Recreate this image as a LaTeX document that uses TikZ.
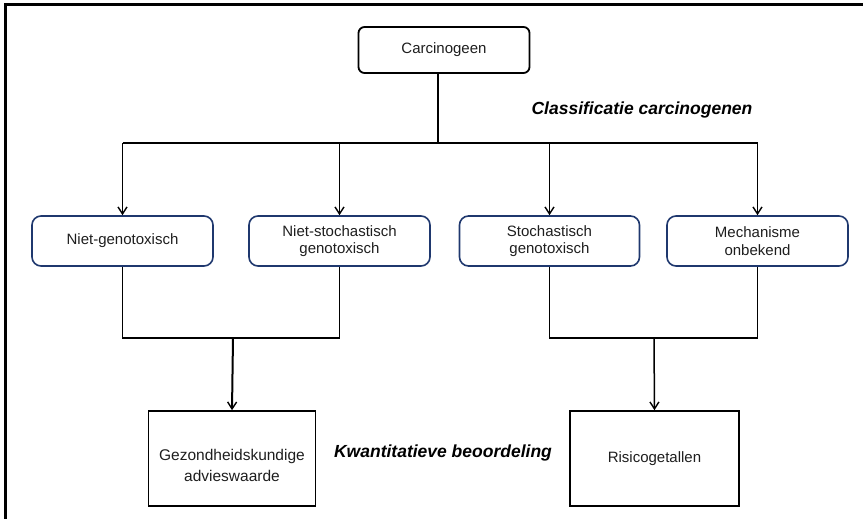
\documentclass[tikz,border=0pt]{standalone}
\usepackage{fontspec}
\setmainfont{Liberation Sans}
\usetikzlibrary{arrows.meta}
\definecolor{boxblue}{RGB}{31,56,110}
\definecolor{txt}{RGB}{30,30,30}
\tikzset{
  lbl/.style={font=\fontsize{15}{17.5}\selectfont, align=center, text=txt},
  topbox/.style={lbl, draw=black, line width=1.8pt, rounded corners=6pt, minimum width=171pt, minimum height=46pt, inner sep=0pt},
  classbox/.style={lbl, draw=boxblue, line width=1.6pt, rounded corners=9pt, minimum height=50pt, inner sep=0pt},
  resbox/.style={lbl, draw=black, line width=1.6pt, minimum width=167pt, minimum height=95pt, inner sep=0pt},
  heading/.style={font=\fontsize{17.5}{20}\selectfont\bfseries\itshape},
  conn/.style={line width=1.5pt},
  arr/.style={conn, -{Straight Barb[length=7pt,width=9pt,line width=1.4pt]}}
}
\begin{document}
\begin{tikzpicture}[x=1pt,y=-1pt]
\useasboundingbox (0,0) rectangle (863,519);
% frame
\draw[line width=2.5pt] (863,4.5) -- (5.5,4.5) -- (5.5,519);
% nodes
\node[topbox] (carc) at (444,50) {Carcinogeen};
\node[classbox, minimum width=181pt] (b1) at (122.5,241) {Niet-genotoxisch};
\node[classbox, minimum width=181pt] (b2) at (339.5,241) {Niet-stochastisch\\genotoxisch};
\node[classbox, minimum width=180pt] (b3) at (549.5,241) {Stochastisch\\genotoxisch};
\node[classbox, minimum width=181pt] (b4) at (757.5,241) {Mechanisme\\onbekend};
\node[resbox] (g1) at (232,458.5) {};
\node[lbl, font=\fontsize{15.5}{21}\selectfont] (g1t) at ([yshift=-7pt]g1.center) {Gezondheidskundige\\advieswaarde};
\node[resbox, minimum width=169pt] (g2) at (654.5,458.5) {Risicogetallen};
\node[heading] (h1) at (642,110) {Classificatie carcinogenen};
\node[heading] (h2) at (443,453) {Kwantitatieve beoordeling};
% junctions
\coordinate (jt) at (438,143);
\coordinate (jl) at (233,338);
\coordinate (jr) at (654,338);
% upper tree
\draw[conn] (carc.south -| jt) -- (jt);
\draw[conn] (b1.north |- jt) -- (b4.north |- jt);
\draw[arr] (b1.north |- jt) -- (b1.north);
\draw[arr] (b2.north |- jt) -- (b2.north);
\draw[arr] (b3.north |- jt) -- (b3.north);
\draw[arr] (b4.north |- jt) -- (b4.north);
% lower trees
\draw[conn] (b1.south) -- (b1.south |- jl) -- (b2.south |- jl) -- (b2.south);
\draw[conn] (b3.south) -- (b3.south |- jr) -- (b4.south |- jr) -- (b4.south);
\draw[arr, line width=2pt] (jl) -- (g1.north);
\draw[arr] (jr) -- (g2.north);
\end{tikzpicture}
\end{document}
